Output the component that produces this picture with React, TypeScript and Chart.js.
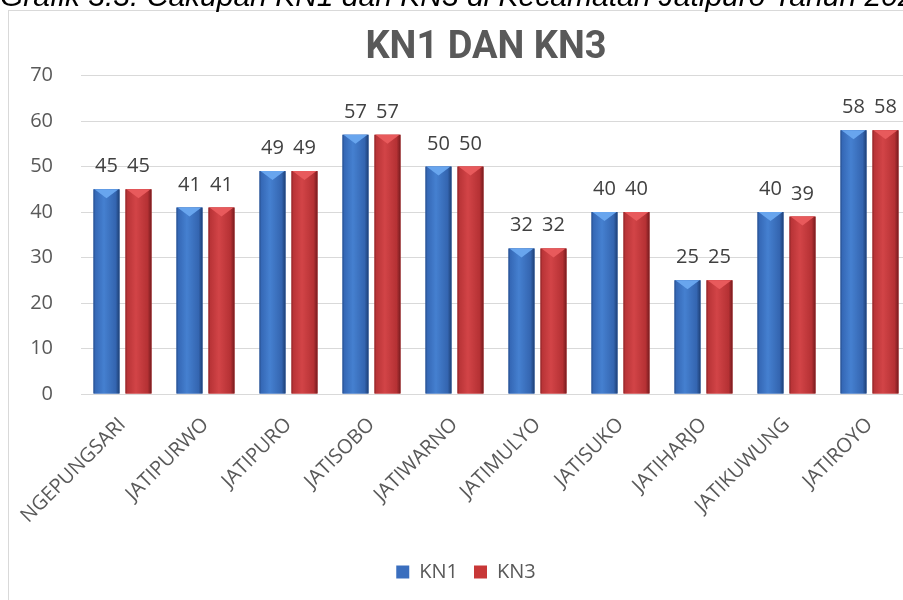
import React, { useEffect, useRef } from 'react';
import { Chart, registerables } from 'chart.js';

Chart.register(...registerables);

const CAPTION = 'Grafik 3.3. Cakupan KN1 dan KN3 di Kecamatan Jatipuro Tahun 2021';
const TITLE = 'KN1 DAN KN3';
const categories = [
  'NGEPUNGSARI',
  'JATIPURWO',
  'JATIPURO',
  'JATISOBO',
  'JATIWARNO',
  'JATIMULYO',
  'JATISUKO',
  'JATIHARJO',
  'JATIKUWUNG',
  'JATIROYO',
];
const kn1Values = [45, 41, 49, 57, 50, 32, 40, 25, 40, 58];
const kn3Values = [45, 41, 49, 57, 50, 32, 40, 25, 39, 58];
const seriesNames = ['KN1', 'KN3'];
const yMin = 0;
const yMax = 70;
const yStep = 10;

const FONT = '"Open Sans", "Noto Sans", sans-serif';
const TEXT_GRAY = '#595959';

const shades = [
  {
    base: '#3a6ebe',
    top: '#68a5ee',
    stops: [
      [0, '#254c8a'],
      [0.07, '#3568b6'],
      [0.4, '#4580d0'],
      [0.85, '#3465b0'],
      [1, '#1d3f75'],
    ],
  },
  {
    base: '#c83737',
    top: '#e85a5c',
    stops: [
      [0, '#8a2326'],
      [0.07, '#b93437'],
      [0.4, '#d24447'],
      [0.85, '#b53134'],
      [1, '#761b1e'],
    ],
  },
];

export default function App() {
  const ref = useRef<HTMLCanvasElement>(null);

  useEffect(() => {
    const canvas = ref.current;
    if (!canvas) return;

    const barStyle = {
      id: 'barStyle',
      afterDatasetsDraw(chart: any) {
        const ctx = chart.ctx as CanvasRenderingContext2D;
        chart.data.datasets.forEach((ds: any, di: number) => {
          const meta = chart.getDatasetMeta(di);
          const sh = shades[di];
          meta.data.forEach((el: any, i: number) => {
            const { x, y, base, width } = el.getProps(['x', 'y', 'base', 'width'], true);
            const l = x - width / 2;
            const r = x + width / 2;
            const t = Math.min(y, base);
            const b = Math.max(y, base);
            ctx.save();
            const g = ctx.createLinearGradient(l, 0, r, 0);
            sh.stops.forEach(([o, c]: any) => g.addColorStop(o, c));
            ctx.fillStyle = g;
            ctx.fillRect(l, t, r - l, b - t);
            const bev = Math.min(9, (b - t) / 2);
            ctx.fillStyle = sh.top;
            ctx.beginPath();
            ctx.moveTo(l + 1, t);
            ctx.lineTo(r - 1, t);
            ctx.lineTo(x, t + bev);
            ctx.closePath();
            ctx.fill();
            ctx.restore();

            ctx.save();
            ctx.font = `20px ${FONT}`;
            ctx.fillStyle = '#404040';
            ctx.textAlign = 'center';
            ctx.textBaseline = 'alphabetic';
            ctx.fillText(String(ds.data[i]), x, t - 17);
            ctx.restore();
          });
        });
      },
    };

    const legendShift = {
      id: 'legendShift',
      afterLayout(chart: any) {
        const lg = chart.legend;
        if (lg) {
          lg.left -= 20;
          lg.right -= 20;
        }
      },
    };

    const chart = new Chart(canvas, {
      type: 'bar',
      data: {
        labels: categories,
        datasets: [
          {
            label: seriesNames[0],
            data: kn1Values,
            backgroundColor: shades[0].base,
            borderWidth: 0,
            categoryPercentage: 0.771,
            barPercentage: 0.8125,
          },
          {
            label: seriesNames[1],
            data: kn3Values,
            backgroundColor: shades[1].base,
            borderWidth: 0,
            categoryPercentage: 0.771,
            barPercentage: 0.8125,
          },
        ],
      },
      options: {
        responsive: false,
        maintainAspectRatio: false,
        animation: false,
        devicePixelRatio: 1,
        layout: { padding: { top: 0, left: 0, right: 0, bottom: 19 } },
        plugins: {
          title: {
            display: true,
            text: TITLE,
            color: TEXT_GRAY,
            font: { size: 38, weight: 'bold', family: 'Roboto, "Open Sans", sans-serif' },
            padding: { top: 15, bottom: 4 },
          },
          legend: {
            display: true,
            position: 'bottom',
            labels: {
              boxWidth: 13,
              boxHeight: 13,
              padding: 16,
              color: TEXT_GRAY,
              font: { size: 20, family: FONT },
            },
          },
          tooltip: { enabled: false },
        },
        scales: {
          x: {
            ticks: {
              color: TEXT_GRAY,
              font: { size: 20, family: FONT },
              maxRotation: 45,
              minRotation: 45,
              autoSkip: false,
              padding: 19,
            },
            grid: { display: false, drawTicks: false },
            border: { display: false },
            afterFit(s: any) {
              s.height = 152;
              s.paddingLeft = 0;
              s.paddingRight = 0;
            },
          },
          y: {
            position: 'left',
            min: yMin,
            max: yMax,
            ticks: {
              stepSize: yStep,
              padding: 28,
              color: TEXT_GRAY,
              font: { size: 20, family: FONT },
            },
            grid: { color: '#d9d9d9', lineWidth: 1, drawTicks: false },
            border: { display: false },
            afterFit(s: any) {
              s.width = 72;
            },
          },
          yRight: {
            position: 'right',
            display: true,
            min: yMin,
            max: yMax,
            ticks: { display: false },
            grid: { display: false, drawTicks: false },
            border: { display: false },
            afterFit(s: any) {
              s.width = 52;
              s.paddingTop = 0;
              s.paddingBottom = 0;
            },
          },
        },
      },
      plugins: [barStyle, legendShift],
    } as any);

    return () => chart.destroy();
  }, []);

  return (
    <div
      style={{
        position: 'fixed',
        left: 0,
        top: 0,
        width: 903,
        height: 600,
        overflow: 'hidden',
        background: '#fff',
      }}
    >
      <div
        style={{
          position: 'absolute',
          left: 8,
          top: 10,
          width: 960,
          height: 620,
          border: '1px solid #d9d9d9',
          background: '#fff',
        }}
      >
        <canvas ref={ref} width={954} height={600} style={{ display: 'block', width: 954, height: 600 }} />
      </div>
      <div
        style={{
          position: 'absolute',
          left: 0,
          top: -21,
          whiteSpace: 'nowrap',
          font: 'italic 30px "Liberation Sans", Arial, sans-serif',
          color: '#000',
          lineHeight: 'normal',
        }}
      >
        {CAPTION}
      </div>
    </div>
  );
}
